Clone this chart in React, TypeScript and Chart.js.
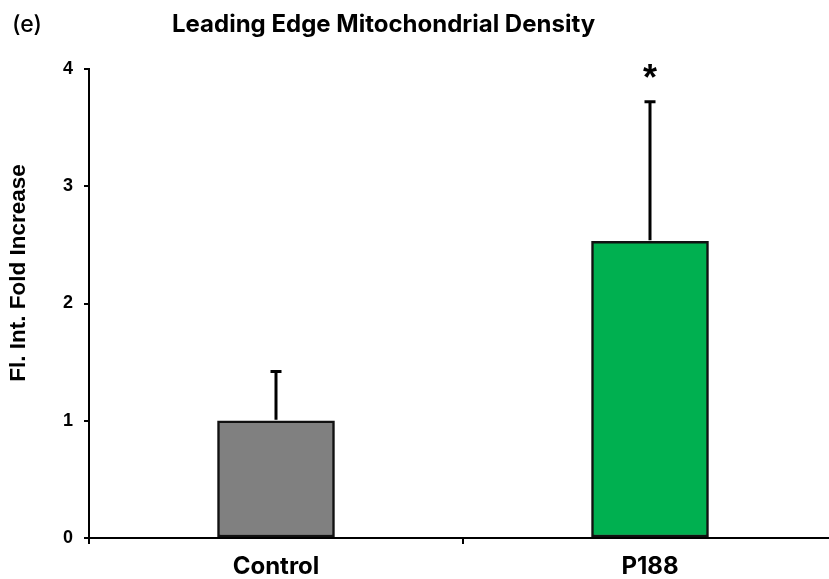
import React, { useEffect, useRef } from 'react';
import { Chart, registerables } from 'chart.js';

Chart.register(...registerables);

const categories = ['Control', 'P188'];
const means = [1.0, 2.53];
const errors = [0.42, 1.19];
const significance = ['', '*'];
const barColors = ['#808080', '#00b050'];
const yTicks = [0, 1, 2, 3, 4];
const panelLabel = '(e)';
const chartTitle = 'Leading Edge Mitochondrial Density';
const yTitle = 'Fl. Int. Fold Increase';

const overlayPlugin = {
  id: 'overlay',
  afterDatasetsDraw(chart: any) {
    const ctx = chart.ctx;
    const meta = chart.getDatasetMeta(0);
    const y = chart.scales.y;
    ctx.save();
    meta.data.forEach((bar: any, i: number) => {
      const x = bar.x;
      const top = y.getPixelForValue(means[i] + errors[i]);
      const base = y.getPixelForValue(means[i]);
      ctx.strokeStyle = '#000';
      ctx.lineWidth = 3;
      ctx.beginPath();
      ctx.moveTo(x, base - 1);
      ctx.lineTo(x, top);
      ctx.moveTo(x - 5.5, top);
      ctx.lineTo(x + 5.5, top);
      ctx.stroke();
      if (significance[i]) {
        ctx.fillStyle = '#000';
        ctx.font = 'bold 36px "Liberation Sans", Arial, sans-serif';
        ctx.textAlign = 'center';
        ctx.textBaseline = 'middle';
        ctx.fillText(significance[i], x, top - 22);
      }
    });
    ctx.fillStyle = '#000';
    ctx.textBaseline = 'middle';
    ctx.textAlign = 'left';
    ctx.font = '500 23px Inter, "Noto Sans", sans-serif';
    ctx.fillText(panelLabel, 12, 25);
    ctx.font = 'bold 24px Inter, "Noto Sans", sans-serif';
    ctx.fillText(chartTitle, 172, 25);
    ctx.translate(19, 273);
    ctx.rotate(-Math.PI / 2);
    ctx.textAlign = 'center';
    ctx.font = 'bold 22.5px "Liberation Sans", Arial, sans-serif';
    ctx.fillText(yTitle, 0, 0);
    ctx.restore();
  },
};

export default function App() {
  const ref = useRef<HTMLCanvasElement | null>(null);
  useEffect(() => {
    document.body.style.margin = '0';
    if (!ref.current) return;
    const chart = new Chart(ref.current, {
      type: 'bar',
      data: {
        labels: categories,
        datasets: [
          {
            data: means,
            backgroundColor: barColors,
            borderColor: '#111',
            borderWidth: 2.5,
            borderSkipped: false,
            barThickness: 117,
          },
        ],
      },
      options: {
        animation: false,
        responsive: false,
        events: [],
        layout: { padding: { top: 69, right: 13, left: 0, bottom: 0 } },
        plugins: { legend: { display: false }, title: { display: false }, tooltip: { enabled: false } },
        scales: {
          x: {
            offset: true,
            grid: { offset: true, drawOnChartArea: false, color: '#000', lineWidth: 2, tickLength: 6 },
            border: { color: '#000', width: 2 },
            ticks: {
              color: '#000',
              padding: 8,
              font: { family: 'Inter, "Noto Sans", sans-serif', size: 24, weight: 'bold' },
            },
            afterFit: (s: any) => { s.height = 41; },
          },
          y: {
            min: 0,
            max: 4,
            afterBuildTicks: (s: any) => { s.ticks = yTicks.map((v) => ({ value: v })); },
            grid: { drawOnChartArea: false, color: '#000', lineWidth: 2, tickLength: 5 },
            border: { color: '#000', width: 2 },
            ticks: {
              color: '#000',
              padding: 11,
              font: { family: '"Liberation Sans", Arial, sans-serif', size: 18, weight: 'bold' },
            },
            afterFit: (s: any) => { s.width = 89; },
          },
        },
      },
      plugins: [overlayPlugin],
    });
    return () => chart.destroy();
  }, []);
  return (
    <div style={{ width: 829, height: 579, overflow: 'hidden', background: '#fff' }}>
      <canvas ref={ref} width={850} height={579} style={{ display: 'block' }} />
    </div>
  );
}
